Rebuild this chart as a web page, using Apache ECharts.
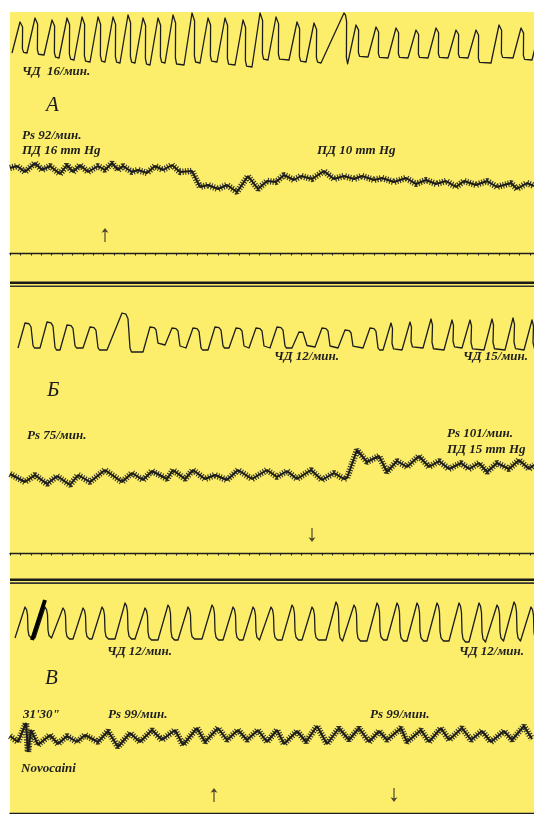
<!DOCTYPE html>
<html lang="ru">
<head>
<meta charset="UTF-8">
<title>Кимограмма: ЧД, Ps, ПД</title>
<script src="https://cdn.jsdelivr.net/npm/echarts@6.0.0/dist/echarts.min.js"></script>
<style>
    html, body { margin: 0; padding: 0; background: #fff; }
    #chart { width: 534px; height: 814px; }
</style>
</head>
<body>
<div id="chart"></div>
<script>
    // положение по ленте (мм от левого края), высоты - мм над нижним краем канала

    // --- А: дыхание ---
    const respA_rise = [2, 17, 34, 49, 64, 80, 95, 110, 125, 140, 155, 174, 190, 207, 225, 242, 258, 279, 296, 311, 338, 358, 378, 398, 418, 438, 458, 481, 503, 522];
    const respA_top = [10, 25, 42, 57, 72, 88, 103, 118, 133, 148, 163, 182, 198, 215, 233, 250, 266, 287, 304, 334, 346, 366, 386, 406, 426, 446, 466, 489, 511, 530];
    const respA_hi = [48, 52, 50, 52, 53, 53, 53, 55, 52, 52, 55, 57, 52, 52, 50, 57, 53, 48, 47, 57, 45, 43, 42, 40, 42, 40, 40, 45, 42, 42];
    const respA_lo = [17, 15, 12, 10, 8, 8, 7, 7, 5, 7, 5, 7, 8, 5, 3, 10, 10, 8, 7, 5, 13, 12, 12, 12, 12, 12, 7, 12, 10, 10];
    // --- А: давление ---
    const bpA_t = [0, 7, 15, 25, 32, 40, 50, 57, 63, 70, 78, 88, 95, 102, 108, 113, 122, 128, 137, 145, 153, 162, 170, 182, 190, 198, 208, 217, 227, 238, 248, 257, 266, 274, 284, 291, 302, 314, 324, 334, 344, 352, 364, 372, 384, 396, 406, 416, 426, 436, 446, 454, 466, 477, 487, 501, 507, 517, 524];
    const bpA_v = [32, 34, 28, 37, 30, 34, 26, 35, 28, 35, 28, 34, 30, 37, 30, 34, 28, 30, 27, 34, 30, 35, 28, 29, 13, 15, 11, 15, 8, 24, 11, 19, 18, 25, 20, 24, 21, 29, 21, 24, 21, 24, 20, 22, 18, 22, 16, 20, 16, 19, 13, 19, 15, 19, 13, 17, 11, 17, 14];
    const marksA = [95];

    // --- Б: дыхание ---
    const respB_rise = [8, 30, 50, 73, 97, 133, 155, 176, 198, 219, 239, 260, 282, 305, 328, 353, 373, 392, 413, 434, 452, 474, 495, 514];
    const respB_top = [15, 37, 57, 80, 112, 140, 162, 183, 205, 226, 246, 267, 289, 312, 335, 360, 381, 400, 421, 442, 460, 482, 503, 522];
    const respB_hi = [37, 38, 35, 33, 47, 33, 32, 32, 33, 32, 32, 33, 28, 32, 30, 32, 37, 38, 41, 40, 40, 41, 42, 40];
    const respB_lo = [12, 10, 12, 10, 8, 15, 12, 10, 12, 12, 12, 12, 13, 12, 12, 10, 10, 12, 10, 12, 10, 10, 10, 10];
    const respB_sharpFrom = 16;
    // --- Б: давление ---
    const bpB_t = [0, 15, 25, 37, 47, 60, 68, 80, 95, 112, 122, 133, 142, 157, 163, 175, 183, 195, 205, 217, 228, 242, 257, 267, 277, 287, 301, 312, 324, 334, 337, 347, 357, 369, 377, 387, 397, 409, 419, 429, 439, 451, 459, 469, 477, 487, 499, 509, 519, 524];
    const bpB_v = [26, 18, 25, 16, 24, 15, 25, 18, 30, 18, 27, 20, 29, 21, 30, 21, 30, 21, 25, 20, 30, 21, 30, 23, 29, 21, 30, 20, 27, 21, 22, 50, 38, 44, 28, 39, 33, 44, 33, 39, 31, 37, 31, 37, 28, 37, 31, 40, 31, 35];
    const marksB = [302];

    // --- В: дыхание ---
    const respV_rise = [5, 25, 43, 63, 82, 105, 125, 148, 168, 192, 213, 233, 251, 272, 292, 316, 334, 357, 377, 397, 417, 439, 459, 477, 494, 511];
    const respV_top = [15, 35, 53, 73, 92, 115, 135, 158, 178, 202, 223, 243, 261, 282, 302, 326, 344, 367, 387, 407, 427, 449, 469, 487, 504, 521];
    const respV_hi = [43, 43, 42, 42, 43, 47, 42, 45, 43, 45, 43, 43, 43, 45, 43, 48, 45, 47, 47, 47, 47, 47, 47, 45, 48, 43];
    const respV_lo = [12, 12, 11, 11, 11, 11, 10, 10, 11, 10, 10, 10, 10, 10, 10, 9, 9, 10, 9, 9, 9, 8, 8, 9, 9, 9];
    const respV_inject = [[22, 10], [35, 50]];
    // --- В: давление ---
    const bpV_t = [0, 8, 16, 18, 21, 28, 40, 48, 57, 67, 75, 88, 98, 108, 120, 130, 142, 152, 165, 173, 187, 195, 208, 217, 228, 237, 248, 257, 267, 274, 287, 296, 307, 317, 329, 339, 349, 359, 369, 377, 391, 397, 411, 419, 431, 439, 452, 461, 472, 481, 494, 502, 514, 522];
    const bpV_v = [24, 18, 37, 8, 30, 15, 25, 16, 24, 18, 25, 18, 29, 13, 27, 18, 30, 20, 30, 15, 32, 18, 32, 20, 30, 20, 30, 18, 30, 16, 29, 18, 34, 16, 32, 20, 32, 18, 29, 20, 32, 18, 30, 18, 32, 20, 32, 20, 29, 18, 29, 20, 34, 21];
    const marksV_up = [204];
    const marksV_down = [384];

    const INK = '#1d1d1d';
    const PAPER = '#fcee6b';

    // форма спада после вершины: [сдвиг от вершины, доля амплитуды]
    const tailA = [[1.5, 0.96], [2.6, 0.84], [2.4, 0.14], [3.6, 0.02], [5, 0]];
    const tailSquare = [[4, 0.97], [6, 0.85], [8, 0.1], [9.5, 0]];
    const tailSharp = [[1.5, 0.8], [1, 0.25], [2.5, 0.04], [4, 0]];
    const tailV = [[1.5, 0.92], [2.5, 0.75], [3, 0.25], [4, 0.08], [6.5, 0]];

    function respLine(rise, top, hi, lo, tailOf) {
        let pts = [];
        for (let i = 0; i < top.length; i++) {
            let base = i ? lo[i - 1] : lo[0];
            pts.push([rise[i], base]);
            pts.push([top[i], hi[i]]);
            tailOf(i).forEach(function (s) {
                pts.push([top[i] + s[0], lo[i] + s[1] * (hi[i] - lo[i])]);
            });
        }
        return pts;
    }

    function zip(t, v) {
        return t.map(function (x, i) { return [x, v[i]]; });
    }

    // каналы: [top, height]
    const channels = [
        [12, 58], [140, 60], [220, 33],
        [300, 60], [430, 70], [520, 33],
        [590, 60], [710, 50], [780, 33]
    ];
    const timerIdx = [2, 5, 8];

    let grids = [], xAxes = [], yAxes = [];
    channels.forEach(function (c, i) {
        grids.push({left: 10, width: 524, top: c[0], height: c[1]});
        let isTimer = timerIdx.indexOf(i) >= 0;
        xAxes.push({
            gridIndex: i, type: 'value', min: 0, max: 524,
            show: isTimer,
            interval: 10.4,
            axisLine: {show: isTimer, lineStyle: {color: INK, width: 1.3}},
            axisTick: {show: isTimer, length: 2.5, lineStyle: {color: INK, width: 1.1}},
            axisLabel: {show: false},
            splitLine: {show: false}
        });
        yAxes.push({gridIndex: i, type: 'value', min: 0, max: c[1], show: false});
    });

    function resp(idx, data) {
        return {
            type: 'line', xAxisIndex: idx, yAxisIndex: idx, data: data,
            symbol: 'none', smooth: false, animation: false,
            lineStyle: {color: INK, width: 1.3, join: 'round'}
        };
    }

    // давление: средняя линия + пульсовые зубцы (штриховка поперёк линии)
    function bp(idx, data) {
        return [
            {
                type: 'line', xAxisIndex: idx, yAxisIndex: idx, data: data,
                symbol: 'none', animation: false,
                lineStyle: {color: INK, width: 2}
            },
            {
                type: 'line', xAxisIndex: idx, yAxisIndex: idx, data: data,
                symbol: 'none', animation: false,
                lineStyle: {color: INK, width: 6.5, type: [1.1, 1.5], cap: 'butt', opacity: 0.9}
            }
        ];
    }

    const arrowUp = 'path://M4,0 L7,5 L4.5,4 L4.5,15 L3.5,15 L3.5,4 L1,5 Z';

    function arrows(idx, xs, rot) {
        return {
            type: 'scatter', xAxisIndex: idx, yAxisIndex: idx,
            data: xs.map(function (x) { return [x, 18]; }),
            symbol: arrowUp, symbolSize: [7, 14], symbolRotate: rot,
            itemStyle: {color: INK}, animation: false, silent: true
        };
    }

    let series = [];
    series.push(resp(0, respLine(respA_rise, respA_top, respA_hi, respA_lo, function () { return tailA; })));
    series = series.concat(bp(1, zip(bpA_t, bpA_v)));
    series.push(arrows(2, marksA, 0));

    series.push(resp(3, respLine(respB_rise, respB_top, respB_hi, respB_lo, function (i) {
        return i >= respB_sharpFrom ? tailSharp : tailSquare;
    })));
    series = series.concat(bp(4, zip(bpB_t, bpB_v)));
    series.push(arrows(5, marksB, 180));

    series.push(resp(6, respLine(respV_rise, respV_top, respV_hi, respV_lo, function () { return tailV; })));
    series.push({
        type: 'line', xAxisIndex: 6, yAxisIndex: 6, data: respV_inject,
        symbol: 'none', animation: false, lineStyle: {color: '#000', width: 4}
    });
    series = series.concat(bp(7, zip(bpV_t, bpV_v)));
    series.push(arrows(8, marksV_up, 0));
    series.push(arrows(8, marksV_down, 180));

    // подписи
    const small = 'italic bold 13px "Liberation Serif"';
    const big = 'italic 21px "Liberation Serif"';
    const labels = [
        ['ЧД  16/мин.', 22, 72, small],
        ['А', 46, 105, big],
        ['Ps 92/мин.', 22, 136, small],
        ['ПД 16 mm Hg', 22, 151, small],
        ['ПД 10 mm Hg', 317, 151, small],
        ['ЧД 12/мин.', 274, 357, small],
        ['ЧД 15/мин.', 463, 357, small],
        ['Б', 47, 390, big],
        ['Ps 75/мин.', 27, 436, small],
        ['Ps 101/мин.', 447, 434, small],
        ['ПД 15 mm Hg', 447, 450, small],
        ['ЧД 12/мин.', 107, 652, small],
        ['ЧД 12/мин.', 459, 652, small],
        ['В', 45, 678, big],
        ['31\'30"', 23, 715, small],
        ['Ps 99/мин.', 108, 715, small],
        ['Ps 99/мин.', 370, 715, small],
        ['Novocaini', 21, 769, small]
    ];

    let graphic = [
        {type: 'rect', z: -10, shape: {x: 10, y: 12, width: 524, height: 802}, style: {fill: PAPER}},
        {type: 'rect', z: 50, shape: {x: 10, y: 281.5, width: 524, height: 2.6}, style: {fill: '#1a1a1a'}},
        {type: 'rect', z: 50, shape: {x: 10, y: 285.4, width: 524, height: 1.6}, style: {fill: '#333'}},
        {type: 'rect', z: 50, shape: {x: 10, y: 578.5, width: 524, height: 2.6}, style: {fill: '#1a1a1a'}},
        {type: 'rect', z: 50, shape: {x: 10, y: 582.3, width: 524, height: 1.6}, style: {fill: '#333'}}
    ];
    labels.forEach(function (l) {
        graphic.push({
            type: 'text', z: 60,
            style: {text: l[0], x: l[1], y: l[2], font: l[3], fill: INK, align: 'left', verticalAlign: 'middle'}
        });
    });

    let chart = echarts.init(document.getElementById('chart'));
    chart.setOption({
        backgroundColor: '#fff',
        animation: false,
        grid: grids,
        xAxis: xAxes,
        yAxis: yAxes,
        series: series,
        graphic: graphic
    });
</script>
</body>
</html>
